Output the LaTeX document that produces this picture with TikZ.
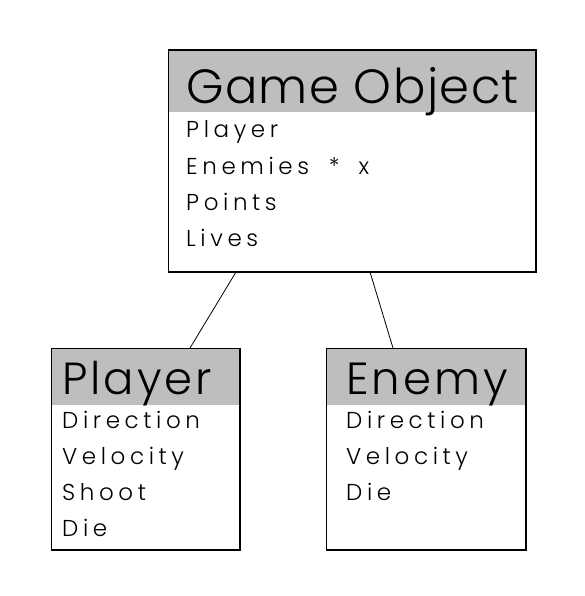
\documentclass[tikz,border=0pt]{standalone}
\usepackage{fontspec}
\setmainfont{Poppins Light}[LetterSpace=20]
\newfontfamily\hdrfont{Poppins Light}[LetterSpace=3]
\newfontfamily\hdrfontw{Poppins Light}[LetterSpace=6.5]
\usetikzlibrary{calc}
\definecolor{hdr}{HTML}{BEBEBE}
\tikzset{
  box/.style={draw=black, line width=1pt, fill=white, inner sep=0pt, anchor=north west},
  head/.style={fill=hdr, inner sep=0pt, anchor=north west},
  htext/.style={anchor=base west, inner sep=0pt, font=\hdrfont\fontsize{#1}{#1}\selectfont},
  htextw/.style={anchor=base west, inner sep=0pt, font=\hdrfontw\fontsize{#1}{#1}\selectfont},
  btext/.style={anchor=base west, inner sep=0pt, font=\fontsize{23}{23}\selectfont},
  link/.style={draw=black, line width=0.8pt}
}
\begin{document}
\begin{tikzpicture}[x=1pt,y=-1pt]
\useasboundingbox (0,0) rectangle (585,596);
% Game Object
\node[box, minimum width=367pt, minimum height=221pt] (go) at (168,50) {};
\node[head, minimum width=366pt, minimum height=61pt] (goh) at (168.5,50.5) {};
\draw[line width=1pt] (go.north west) rectangle (go.south east);
\node[htext=48] (got) at (186,104) {Game Object};
\node[btext] (g1) at (186,138) {Player};
\node[btext] (g2) at (186,174) {Enemies\hspace{9pt} *\hspace{8pt} x};
\node[btext] (g3) at (186,210) {Points};
\node[btext] (g4) at (186,246) {Lives};
% Player
\node[box, minimum width=188pt, minimum height=201pt] (pl) at (51,348) {};
\node[head, minimum width=187pt, minimum height=56pt] (plh) at (51.5,348.5) {};
\draw[line width=1pt] (pl.north west) rectangle (pl.south east);
\node[htextw=45] (plt) at (62,394) {Player};
\node[btext] (p1) at (62,428) {Direction};
\node[btext] (p2) at (62,464) {Velocity};
\node[btext] (p3) at (62,500) {Shoot};
\node[btext] (p4) at (62,536) {Die};
% Enemy
\node[box, minimum width=199pt, minimum height=201pt] (en) at (326,348) {};
\node[head, minimum width=198pt, minimum height=56pt] (enh) at (326.5,348.5) {};
\draw[line width=1pt] (en.north west) rectangle (en.south east);
\node[htextw=45] (ent) at (346,394) {Enemy};
\node[btext] (e1) at (346,428) {Direction};
\node[btext] (e2) at (346,464) {Velocity};
\node[btext] (e3) at (346,500) {Die};
% connectors
\draw[link] ($(go.south west)+(68,0)$) -- ($(pl.north west)+(139,0)$);
\draw[link] ($(go.south west)+(202,0)$) -- ($(en.north west)+(67,0)$);
\end{tikzpicture}
\end{document}
